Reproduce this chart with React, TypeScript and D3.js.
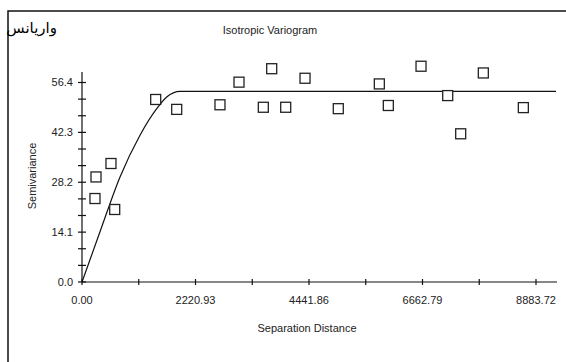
import * as d3 from "d3";

// experimental semivariance points (separation distance, semivariance)
const lagDistance = [254, 274, 567, 640, 1442, 1853, 2700, 3072, 3548, 3712, 3986, 4364, 5015, 5818, 5994, 6634, 7156, 7410, 7853, 8636];
const semivariance = [23.6, 29.7, 33.5, 20.5, 51.6, 48.8, 50.1, 56.5, 49.4, 60.3, 49.4, 57.6, 49.0, 56.0, 49.9, 61.0, 52.7, 41.9, 59.1, 49.3];

// fitted model curve
const modelDistance = [0, 352, 744, 1135, 1462, 1657, 1918, 9275];
const modelValue = [0, 14.2, 29.7, 41.5, 49.0, 52.3, 53.9, 53.9];

const xTickLabels = ["0.00", "2220.93", "4441.86", "6662.79", "8883.72"];
const xMinorTicks = [1110.465, 3331.395, 5552.325, 7773.255];
const yTickLabels = ["0.0", "14.1", "28.2", "42.3", "56.4"];
const yMinorTicks = [4.7, 9.4, 18.8, 23.5, 32.9, 37.6, 47.0, 51.7];

const W = 566;
const H = 362;
const font = "'Liberation Sans', Arial, sans-serif";
const ink = "#222";

export default function App() {
  const x = d3.scaleLinear().domain([0, 8883.72]).range([82, 536]);
  const y = d3.scaleLinear().domain([0, 56.4]).range([282, 82.5]);

  const pts = lagDistance.map((d, i) => ({ d, v: semivariance[i] }));
  const model = modelDistance.map((d, i) => [d, modelValue[i]] as [number, number]);
  const line = d3.line<[number, number]>()
    .x(p => x(p[0]))
    .y(p => y(p[1]))
    .curve(d3.curveMonotoneX);

  const xMajor = xTickLabels.map(Number);
  const yMajor = yTickLabels.map(Number);

  return (
    <svg width={W} height={H} style={{ position: "absolute", left: 0, top: 0, background: "#fff" }}>
      <rect x={8} y={11} width={W} height={H} fill="#fff" stroke="#111" strokeWidth={1.5} />

      <text x={270} y={34} textAnchor="middle" fontFamily={font} fontSize={11} fill={ink}>
        Isotropic Variogram
      </text>
      <text x={57} y={33} textAnchor="end" fontFamily="'DejaVu Sans', sans-serif" fontSize={15} fill="#000">
        واریانس
      </text>

      {/* axes */}
      <g stroke="#111" strokeWidth={1.2}>
        <line x1={x(0)} x2={x(0)} y1={y(0)} y2={72} />
        <line x1={x(0)} x2={557} y1={y(0)} y2={y(0)} />
        {[...yMajor, ...yMinorTicks].map((t, i) => (
          <line key={"yt" + i} x1={x(0) - 4} x2={x(0) + 4} y1={y(t)} y2={y(t)} />
        ))}
        {[...xMajor, ...xMinorTicks].map((t, i) => (
          <line key={"xt" + i} x1={x(t)} x2={x(t)} y1={y(0) - 3} y2={y(0) + 3} />
        ))}
      </g>

      <g fontFamily={font} fontSize={11} fill={ink}>
        {yTickLabels.map((t, i) => (
          <text key={t} x={73} y={y(yMajor[i])} dy="0.35em" textAnchor="end">{t}</text>
        ))}
        {xTickLabels.map((t, i) => (
          <text key={t} x={x(xMajor[i])} y={304} textAnchor="middle">{t}</text>
        ))}
        <text x={307} y={332} textAnchor="middle">Separation Distance</text>
        <text transform="translate(36,176) rotate(-90)" textAnchor="middle">Semivariance</text>
      </g>

      <path d={line(model) ?? ""} fill="none" stroke="#111" strokeWidth={1.2} />

      <g fill="#fff" stroke="#222" strokeWidth={1.3}>
        {pts.map((p, i) => (
          <rect key={i} x={x(p.d) - 5} y={y(p.v) - 5} width={10} height={10} />
        ))}
      </g>
    </svg>
  );
}
